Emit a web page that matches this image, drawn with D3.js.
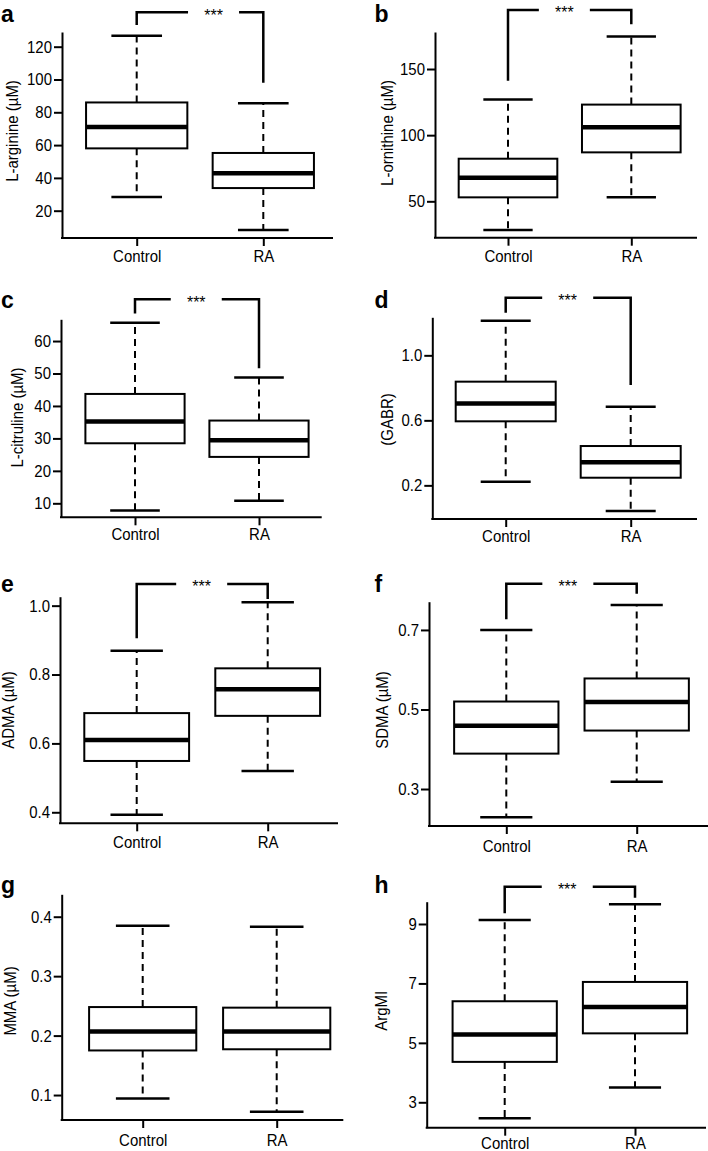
<!DOCTYPE html>
<html>
<head>
<meta charset="utf-8">
<script src="https://cdn.jsdelivr.net/npm/d3@7/dist/d3.min.js"></script>
<style>
  html, body { margin: 0; padding: 0; background: #fff; }
  svg { display: block; font-family: "Liberation Sans", Arial, Helvetica, sans-serif; }
</style>
</head>
<body>
<svg id="chart" width="708" height="1151"></svg>
<script>
// ---------- data ----------
const categories = ["Control", "RA"];
const panelLetters = ["a", "b", "c", "d", "e", "f", "g", "h"];
const yLabels = ["L-arginine (µM)", "L-ornithine (µM)", "L-citruline (µM)", "(GABR)",
                 "ADMA (µM)", "SDMA (µM)", "MMA (µM)", "ArgMI"];

// [lower whisker, Q1, median, Q3, upper whisker]
const controlStats = [
  [28.3, 58.0, 71.0, 86.0, 126.7],
  [28.4, 53.0, 67.9, 82.2, 126.9],
  [7.8, 28.5, 35.2, 43.7, 65.6],
  [0.222, 0.594, 0.703, 0.838, 1.213],
  [0.393, 0.549, 0.610, 0.688, 0.869],
  [0.229, 0.389, 0.459, 0.520, 0.700],
  [0.094, 0.175, 0.207, 0.248, 0.385],
  [2.46, 4.36, 5.28, 6.40, 9.13]
];
const raStats = [
  [8.3, 33.8, 42.8, 55.2, 85.5],
  [53.0, 87.0, 106.0, 123.1, 174.6],
  [10.8, 24.3, 29.4, 35.5, 48.8],
  [0.042, 0.247, 0.342, 0.442, 0.684],
  [0.520, 0.680, 0.757, 0.818, 1.010],
  [0.318, 0.447, 0.519, 0.578, 0.763],
  [0.072, 0.177, 0.207, 0.247, 0.383],
  [3.50, 5.32, 6.21, 7.05, 9.66]
];

const yTicks = [
  [20, 40, 60, 80, 100, 120],
  [50, 100, 150],
  [10, 20, 30, 40, 50, 60],
  [0.2, 0.6, 1.0],
  [0.4, 0.6, 0.8, 1.0],
  [0.3, 0.5, 0.7],
  [0.1, 0.2, 0.3, 0.4],
  [3, 5, 7, 9]
];
const tickDecimals = [0, 0, 0, 1, 1, 1, 1, 0];
const yDomains = [
  [3.35, 128.96], [22.5, 177.97], [5.69, 66.7], [-0.007, 1.234],
  [0.368, 1.026], [0.207, 0.771], [0.058, 0.4377], [2.145, 9.75]
];

// significance brackets: [top, left drop end, right drop end, star x (category units)]
const sigLabel = "***";
const brackets = [
  [141.0, 133.2, 98.05, 1.607],
  [194.6, 141.2, 183.8, 1.457],
  [72.9, 68.5, 51.6, 1.494],
  [1.354, 1.262, 0.817, 1.496],
  [1.063, 0.905, 1.019, 1.496],
  [0.816, 0.727, 0.791, 1.472],
  null,
  [10.255, 9.36, 9.885, 1.48]
];

// ---------- layout ----------
const layout = [
  {left: 62,    top: 32,    right: 333,   bottom: 238,    cx: [136.7, 263.3], lx: 1,     ly: 21.5,  ylx: 18,    yly: 131,    caty: 262.5},
  {left: 435,   top: 32,    right: 697,   bottom: 237.7,  cx: [508, 631.3],   lx: 374.5, ly: 22,    ylx: 392.5, yly: 133,    caty: 262},
  {left: 61,    top: 319.3, right: 321.7, bottom: 517.3,  cx: [135, 259],     lx: 1,     ly: 308.3, ylx: 22.5,  yly: 417.5,  caty: 540.5},
  {left: 432.3, top: 317.3, right: 697,   bottom: 519,    cx: [505.7, 630.7], lx: 374.5, ly: 308.3, ylx: 392.5, yly: 419.5,  caty: 542},
  {left: 60,    top: 596.7, right: 338,   bottom: 823.3,  cx: [136.7, 267.7], lx: 1,     ly: 591.7, ylx: 14,    yly: 710,    caty: 848},
  {left: 429,   top: 601.7, right: 708,   bottom: 826,    cx: [506.3, 636.7], lx: 374.5, ly: 591.7, ylx: 388,   yly: 710,    caty: 852},
  {left: 61.7,  top: 894.3, right: 343.3, bottom: 1120,   cx: [142.7, 276.7], lx: 1,     ly: 893,   ylx: 15.5,  yly: 1001,   caty: 1146.5},
  {left: 426.7, top: 901.7, right: 706,   bottom: 1127.7, cx: [504.7, 635],   lx: 374.5, ly: 893,   ylx: 386.5, yly: 1010.8, caty: 1149}
];

const svg = d3.select("#chart");
const FS = 17;      // font size (glyphs are narrowed horizontally)
const SX = 0.88;    // horizontal text squeeze

panelLetters.forEach((letter, i) => {
  const L = layout[i];
  const g = svg.append("g");
  const y = d3.scaleLinear().domain(yDomains[i]).range([L.bottom, L.top]);
  const x = d3.scaleLinear().domain([1, 2]).range(L.cx);
  const unit = x(2) - x(1);

  // y axis
  const yAx = g.append("g").attr("transform", `translate(${L.left},0)`)
    .call(d3.axisLeft(y).tickValues(yTicks[i]).tickSize(8).tickSizeOuter(0).tickPadding(2)
      .tickFormat(d => d.toFixed(tickDecimals[i])));
  yAx.attr("font-size", FS).attr("font-family", null);
  yAx.select(".domain").attr("stroke-width", 2);
  yAx.selectAll(".tick line").attr("stroke-width", 2);
  yAx.selectAll(".tick text").attr("fill", "#000")
    .attr("x", -10 / SX).attr("transform", `scale(${SX},1)`);

  // x axis
  g.append("line").attr("x1", L.left - 1).attr("x2", L.right)
    .attr("y1", L.bottom).attr("y2", L.bottom)
    .attr("stroke", "#000").attr("stroke-width", 2);
  const xAx = g.append("g").attr("transform", `translate(0,${L.bottom})`)
    .call(d3.axisBottom(x).tickValues([1, 2]).tickSize(8).tickFormat(d => categories[d - 1]));
  xAx.attr("font-size", FS).attr("font-family", null);
  xAx.select(".domain").remove();
  xAx.selectAll(".tick line").attr("stroke-width", 2);
  xAx.selectAll(".tick text").attr("dy", null).attr("y", L.caty - L.bottom)
    .attr("fill", "#000").attr("transform", `scale(${SX},1)`);

  // boxes
  [controlStats[i], raStats[i]].forEach((s, k) => {
    const cx = x(k + 1);
    const [lo, q1, med, q3, hi] = s;
    g.append("line").attr("x1", cx).attr("x2", cx).attr("y1", y(q3)).attr("y2", y(hi))
      .attr("stroke", "#000").attr("stroke-width", 2).attr("stroke-dasharray", "7,5");
    g.append("line").attr("x1", cx).attr("x2", cx).attr("y1", y(q1)).attr("y2", y(lo))
      .attr("stroke", "#000").attr("stroke-width", 2).attr("stroke-dasharray", "7,5");
    [lo, hi].forEach(v => {
      g.append("line").attr("x1", cx - 0.2 * unit).attr("x2", cx + 0.2 * unit)
        .attr("y1", y(v)).attr("y2", y(v)).attr("stroke", "#000").attr("stroke-width", 2.5);
    });
    g.append("rect").attr("x", cx - 0.4 * unit).attr("width", 0.8 * unit)
      .attr("y", y(q3)).attr("height", y(q1) - y(q3))
      .attr("fill", "#fff").attr("stroke", "#000").attr("stroke-width", 2);
    g.append("line").attr("x1", cx - 0.4 * unit).attr("x2", cx + 0.4 * unit)
      .attr("y1", y(med)).attr("y2", y(med)).attr("stroke", "#000").attr("stroke-width", 4.5);
  });

  // significance bracket
  const b = brackets[i];
  if (b) {
    const [top, lEnd, rEnd, sx] = b;
    const gap = 25.5;
    const p = d3.path();
    p.moveTo(x(1), y(lEnd)); p.lineTo(x(1), y(top)); p.lineTo(x(sx) - gap, y(top));
    p.moveTo(x(sx) + gap, y(top)); p.lineTo(x(2), y(top)); p.lineTo(x(2), y(rEnd));
    g.append("path").attr("d", p.toString()).attr("fill", "none")
      .attr("stroke", "#000").attr("stroke-width", 2.5).attr("stroke-linejoin", "miter");
    g.append("text").attr("x", x(sx)).attr("y", y(top) + 8.5)
      .attr("text-anchor", "middle").attr("font-size", 16).text(sigLabel);
  }

  // y label
  g.append("text").attr("transform", `translate(${L.ylx},${L.yly}) rotate(-90) scale(${SX},1)`)
    .attr("text-anchor", "middle").attr("font-size", FS).text(yLabels[i]);

  // panel letter
  g.append("text").attr("x", L.lx).attr("y", L.ly)
    .attr("font-size", 23).attr("font-weight", "bold").text(letter);
});
</script>
</body>
</html>
